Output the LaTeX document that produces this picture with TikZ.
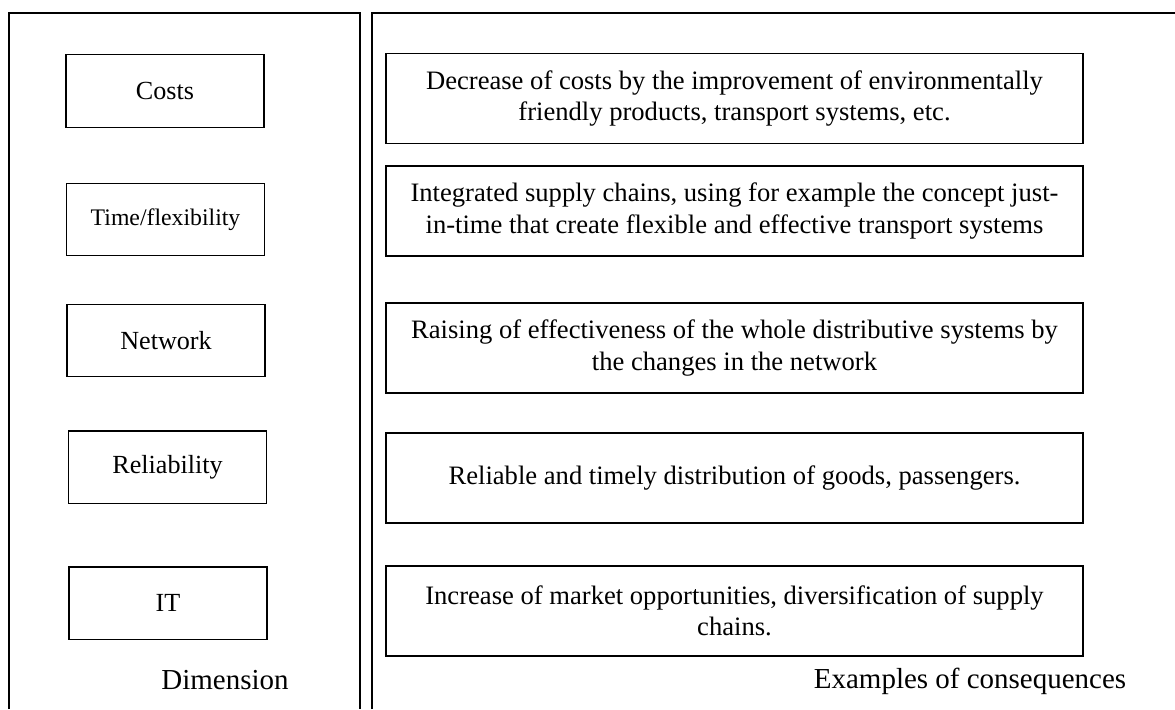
\documentclass[tikz,border=0pt]{standalone}
\usepackage{fontspec}
\setmainfont{Liberation Serif}
\tikzset{
  frame/.style={line width=0.7pt},
  dimbox/.style={draw, line width=0.6pt, minimum width=83.4pt, minimum height=30.5pt,
    inner sep=0pt, font=\fontsize{11}{13}\selectfont},
  consbox/.style={draw, line width=0.6pt, minimum width=293.5pt, minimum height=37.9pt,
    inner sep=0pt, align=center, font=\fontsize{11.2}{13.1}\selectfont},
  caption/.style={font=\fontsize{12.2}{14}\selectfont}
}
\begin{document}
\begin{tikzpicture}[x=0.421pt, y=-0.421pt]
    \useasboundingbox (0,0) rectangle (1175,709);
    % the two open panels
    \draw[frame] (9,709) -- (9,13) -- (360,13) -- (360,709);
    \draw[frame] (372,709) -- (372,13) -- (1175,13);
    % dimensions
    \node[dimbox] (costs) at (165,91) {Costs};
    \node[dimbox, font=\fontsize{10}{12}\selectfont] (time) at (165.5,219.5) {Time/flexibility};
    \node[dimbox] (network) at (166,340.5) {Network};
    \node[dimbox] (reliab) at (167.5,467) {Reliability};
    \node[dimbox] (it) at (168,603) {IT};
    \node[caption] (dimension) at (225,680) {Dimension};
    % consequences
    \node[consbox] (cons1) at (734.5,98.5) {Decrease of costs by the improvement of environmentally\\ friendly products, transport systems, etc.};
    \node[consbox] (cons2) at (734.5,211) {Integrated supply chains, using for example the concept just-\\ in-time that create flexible and effective transport systems};
    \node[consbox] (cons3) at (734.5,348) {Raising of effectiveness of the whole distributive systems by\\ the changes in the network};
    \node[consbox] (cons4) at (734.5,478) {Reliable and timely distribution of goods, passengers.};
    \node[consbox] (cons5) at (734.5,611) {Increase of market opportunities, diversification of supply\\ chains.};
    \node[caption] (examples) at (970,681) {Examples of consequences};
\end{tikzpicture}
\end{document}
